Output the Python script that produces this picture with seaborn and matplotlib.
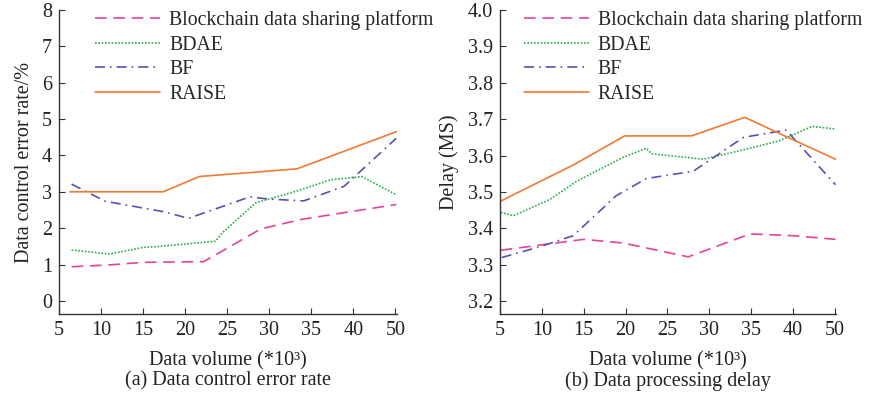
import matplotlib
matplotlib.use("Agg")
import matplotlib.pyplot as plt
import seaborn as sns
import pandas as pd

sns.set_theme(style="ticks")
plt.rcParams['font.family'] = ['Liberation Serif', 'DejaVu Serif']

series_names = ["Blockchain data sharing platform", "BDAE", "BF", "RAISE"]
colors = ["#e2449c", "#25b04c", "#5a4fb2", "#f07a32"]

tick_pos = [5, 10, 15, 20, 25, 30, 35, 40, 45]
tick_labels = ["5", "10", "15", "20", "25", "30", "35", "40", "50"]

# (a) Data control error rate
a_chain_x = [6.5, 11.0, 15.0, 22.2, 29.0, 33.8, 39.3, 45.1]
a_chain_y = [0.94, 0.99, 1.06, 1.08, 1.98, 2.24, 2.44, 2.65]
a_bdae_x = [6.5, 11.0, 15.0, 17.0, 23.6, 24.4, 28.4, 30.0, 33.4, 37.3, 41.0, 45.1]
a_bdae_y = [1.40, 1.29, 1.47, 1.50, 1.64, 1.87, 2.70, 2.80, 3.03, 3.33, 3.42, 2.92]
a_bf_x = [6.5, 10.5, 17.5, 20.4, 27.7, 29.9, 34.1, 38.9, 45.1]
a_bf_y = [3.21, 2.74, 2.45, 2.27, 2.86, 2.80, 2.75, 3.15, 4.47]
a_raise_x = [6.3, 17.4, 21.7, 33.3, 45.1]
a_raise_y = [3.00, 3.00, 3.42, 3.63, 4.65]

# (b) Data processing delay
b_chain_x = [5.1, 10.0, 15.0, 19.7, 27.5, 34.9, 40.1, 45.1]
b_chain_y = [3.340, 3.355, 3.370, 3.360, 3.322, 3.385, 3.380, 3.370]
b_bdae_x = [5.1, 6.6, 11.0, 14.2, 19.7, 22.5, 23.1, 29.3, 34.5, 38.3, 42.3, 45.1]
b_bdae_y = [3.444, 3.435, 3.480, 3.530, 3.595, 3.620, 3.605, 3.590, 3.618, 3.640, 3.680, 3.673]
b_bf_x = [5.2, 9.8, 13.75, 18.9, 22.5, 28.1, 34.1, 39.2, 45.1]
b_bf_y = [3.320, 3.350, 3.380, 3.490, 3.537, 3.557, 3.650, 3.670, 3.520]
b_raise_x = [5.0, 6.2, 13.75, 19.9, 27.9, 34.25, 39.4, 45.1]
b_raise_y = [3.474, 3.488, 3.574, 3.654, 3.654, 3.705, 3.650, 3.590]

styles = [(0, (7, 4)), (0, (1, 1)), (0, (6, 3, 1, 3)), "-"]

fig = plt.figure(figsize=(8.69, 3.95), dpi=100)
ax1 = fig.add_axes([0.0679, 0.205, 0.389, 0.770])
ax2 = fig.add_axes([0.5754, 0.205, 0.387, 0.770])

panel_a = [(a_chain_x, a_chain_y), (a_bdae_x, a_bdae_y), (a_bf_x, a_bf_y), (a_raise_x, a_raise_y)]
panel_b = [(b_chain_x, b_chain_y), (b_bdae_x, b_bdae_y), (b_bf_x, b_bf_y), (b_raise_x, b_raise_y)]

FS = 14.5
LFS = 14.2

for ax, panel in [(ax1, panel_a), (ax2, panel_b)]:
    for name, (xs, ys), c, ls in zip(series_names, panel, colors, styles):
        df = pd.DataFrame({"x": xs, "y": ys})
        sns.lineplot(data=df, x="x", y="y", ax=ax, color=c, linestyle=ls,
                     linewidth=1.2, estimator=None, sort=False, label=name)
    ax.set_xlim(5, 45.2)
    ax.set_xticks(tick_pos)
    ax.set_xticklabels(tick_labels)
    for s in ["top", "right"]:
        ax.spines[s].set_visible(False)
    for s in ["left", "bottom"]:
        ax.spines[s].set_color("#333333")
        ax.spines[s].set_linewidth(1.0)
    ax.tick_params(direction="in", length=4, width=0.8, colors="#333333",
                   labelsize=FS, labelcolor="#222222", pad=5)
    ax.set_xlabel("Data volume (*10³)", fontsize=FS, color="#222222", labelpad=8)

ax1.set_ylim(-0.36, 8)
ax1.set_yticks([0, 1, 2, 3, 4, 5, 6, 7, 8])
ax1.set_ylabel("Data control error rate/%", fontsize=FS, color="#222222", labelpad=6)

ax2.set_ylim(3.165, 4.0)
ax2.set_yticks([3.2, 3.3, 3.4, 3.5, 3.6, 3.7, 3.8, 3.9, 4.0])
ax2.set_yticklabels(["3.2", "3.3", "3.4", "3.5", "3.6", "3.7", "3.8", "3.9", "4.0"])
ax2.set_ylabel("Delay (MS)", fontsize=FS, color="#222222", labelpad=6)

for ax, bx in [(ax1, 0.083), (ax2, 0.047)]:
    ax.legend(loc="upper left", bbox_to_anchor=(bx, 1.025), frameon=False,
              fontsize=LFS, handlelength=3.3, handletextpad=0.45,
              labelspacing=0.28, borderaxespad=0)

fig.text((0.0679 + 0.4569) / 2, 1 - 381 / 395, "(a) Data control error rate",
         ha="center", va="center", fontsize=FS, color="#222222")
fig.text((0.5754 + 0.9624) / 2, 1 - 381 / 395, "(b) Data processing delay",
         ha="center", va="center", fontsize=FS, color="#222222")

fig.savefig("out.png", dpi=100)
